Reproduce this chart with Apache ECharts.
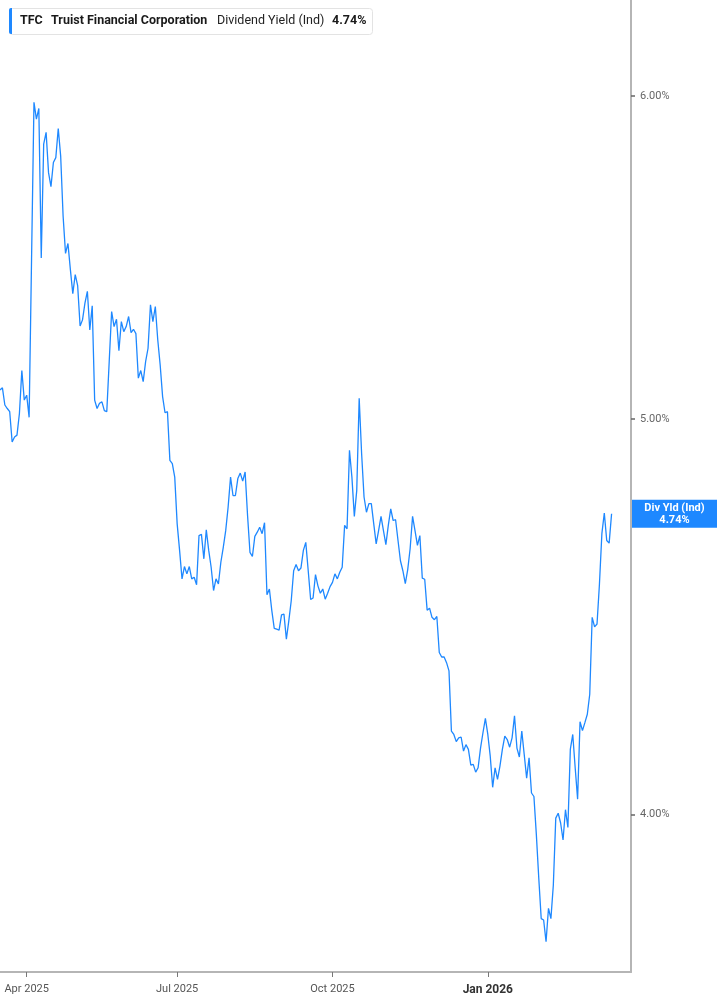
<!DOCTYPE html>
<html><head><meta charset="utf-8">
<script src="https://cdn.jsdelivr.net/npm/echarts@6/dist/echarts.min.js"></script>
<style>html,body{margin:0;padding:0;background:#fff}#c{width:717px;height:1005px}</style>
</head><body><div id="c"></div>
<script>
// ---- data ----
const startDate = '2025-03-17';
const holidays = ['2025-04-18','2025-05-26','2025-06-19','2025-07-04','2025-09-01','2025-11-27','2025-12-25','2026-01-01','2026-01-19','2026-02-16'];
const categoryCount = 261;
const labelDates = ['2025-04-01','2025-07-01','2025-10-01','2026-01-02'];
const labelTexts = ['Apr 2025','Jul 2025','Oct 2025','Jan 2026'];
const yTicks = [4, 5, 6];
const yMin = 3.66, yMax = 6.334;
const lastYield = 4.74;
const yields = [
5.083,5.089,5.040,5.030,5.021,4.936,4.950,4.955,5.016,5.139,
5.054,5.068,5.005,5.471,5.979,5.922,5.958,5.476,5.839,5.878,
5.746,5.701,5.779,5.795,5.891,5.800,5.607,5.490,5.521,5.440,
5.367,5.425,5.391,5.270,5.288,5.338,5.374,5.258,5.330,5.054,
5.030,5.045,5.049,5.024,5.021,5.165,5.313,5.268,5.290,5.197,
5.283,5.253,5.268,5.298,5.250,5.260,5.247,5.117,5.139,5.107,
5.165,5.204,5.333,5.283,5.328,5.229,5.155,5.064,5.018,5.021,
4.885,4.876,4.839,4.713,4.643,4.569,4.601,4.582,4.601,4.569,
4.573,4.554,4.682,4.685,4.621,4.697,4.643,4.599,4.539,4.569,
4.556,4.612,4.651,4.695,4.758,4.839,4.789,4.789,4.835,4.850,
4.828,4.853,4.736,4.638,4.627,4.680,4.691,4.704,4.687,4.716,
4.528,4.543,4.488,4.443,4.441,4.439,4.477,4.479,4.416,4.462,
4.513,4.590,4.606,4.590,4.597,4.643,4.664,4.590,4.516,4.520,
4.580,4.551,4.532,4.543,4.517,4.532,4.549,4.560,4.582,4.569,
4.586,4.599,4.709,4.700,4.913,4.839,4.733,4.803,5.059,4.904,
4.785,4.744,4.767,4.767,4.713,4.660,4.695,4.733,4.695,4.658,
4.709,4.753,4.722,4.724,4.669,4.616,4.590,4.557,4.593,4.648,
4.733,4.695,4.656,4.682,4.571,4.568,4.489,4.494,4.471,4.465,
4.473,4.383,4.372,4.372,4.358,4.338,4.193,4.185,4.168,4.177,
4.179,4.146,4.161,4.150,4.113,4.115,4.097,4.107,4.153,4.189,
4.223,4.185,4.134,4.062,4.107,4.080,4.111,4.150,4.181,4.173,
4.155,4.177,4.229,4.153,4.132,4.193,4.138,4.083,4.130,4.049,
4.041,3.955,3.859,3.772,3.769,3.723,3.794,3.772,3.844,3.992,
4.003,3.981,3.943,4.011,3.971,4.150,4.185,4.107,4.035,4.215,
4.194,4.213,4.233,4.281,4.471,4.447,4.454,4.556,4.687,4.742,
4.669,4.662,4.740
];

// ---- categories (trading days) ----
function tradingDays(start, n) {
  const out = [];
  const d = new Date(start + 'T00:00:00Z');
  while (out.length < n) {
    const dow = d.getUTCDay();
    const s = d.toISOString().slice(0, 10);
    if (dow !== 0 && dow !== 6 && holidays.indexOf(s) < 0) out.push(s);
    d.setUTCDate(d.getUTCDate() + 1);
  }
  return out;
}
const dates = tradingDays(startDate, categoryCount);
const isLabel = (i, v) => labelDates.indexOf(v) >= 0;

const chart = echarts.init(document.getElementById('c'), null, {renderer: 'canvas'});
const FONT = 'Roboto, "Noto Sans", sans-serif';
chart.setOption({
  animation: false,
  backgroundColor: '#ffffff',
  grid: {left: 0, right: 86, top: 0, bottom: 33, containLabel: false},
  xAxis: {
    type: 'category', data: dates, boundaryGap: false,
    axisLine: {show: true, lineStyle: {color: '#b5b5b5', width: 2}},
    axisTick: {show: true, interval: isLabel, length: 5, lineStyle: {color: '#777', width: 1}},
    axisLabel: {
      interval: isLabel, margin: 12, color: '#555', fontSize: 11, fontFamily: FONT,
      formatter: v => {
        const k = labelDates.indexOf(v);
        if (k < 0) return '';
        return k === 3 ? '{b|' + labelTexts[k] + '}' : labelTexts[k];
      },
      rich: {b: {fontWeight: 'bold', fontSize: 12, color: '#333', fontFamily: FONT}}
    },
    splitLine: {show: false}
  },
  yAxis: {
    type: 'log', logBase: 10, position: 'right', min: yMin, max: yMax,
    axisLine: {show: true, lineStyle: {color: '#b5b5b5', width: 2}},
    axisTick: {show: true, customValues: yTicks, length: 4, lineStyle: {color: '#666', width: 1.5}},
    axisLabel: {customValues: yTicks, formatter: v => Number(v).toFixed(2) + '%', color: '#666', fontSize: 11, fontFamily: FONT, margin: 9},
    splitLine: {show: false},
    minorTick: {show: false}
  },
  series: [{
    type: 'line', data: yields, symbol: 'none', showSymbol: false,
    lineStyle: {color: '#1e88ff', width: 1.3},
    markLine: {
      silent: true, symbol: ['none', 'none'],
      lineStyle: {color: 'transparent', width: 0},
      data: [{yAxis: lastYield}],
      label: {
        show: true, position: 'end', distance: 1,
        formatter: '{a|Div Yld (Ind)}\n{a|' + lastYield.toFixed(2) + '%}',
        backgroundColor: '#1e88ff', padding: [2, 8, 2, 8], align: 'left', verticalAlign: 'middle',
        rich: {a: {width: 69, align: 'center', color: '#fff', fontWeight: 'bold', fontSize: 11, lineHeight: 12, fontFamily: FONT}}
      }
    }
  }],
  graphic: [
    {type: 'rect', left: 9, top: 8, z: 10, shape: {width: 363, height: 26, r: 3}, style: {fill: '#fff', stroke: '#e3e3e3', lineWidth: 1}},
    {type: 'rect', left: 9, top: 8, z: 11, shape: {width: 3, height: 26, r: [2, 0, 0, 2]}, style: {fill: '#1e88ff'}},
    {type: 'text', left: 20, top: 14, z: 12, style: {text: 'TFC', font: 'bold 12.5px ' + FONT, fill: '#1a1a1a'}},
    {type: 'text', left: 51, top: 14, z: 12, style: {text: 'Truist Financial Corporation', font: 'bold 12.5px ' + FONT, fill: '#1a1a1a'}},
    {type: 'text', left: 217, top: 14, z: 12, style: {text: 'Dividend Yield (Ind)', font: '12.5px ' + FONT, fill: '#222'}},
    {type: 'text', left: 332, top: 14, z: 12, style: {text: lastYield.toFixed(2) + '%', font: 'bold 12.5px ' + FONT, fill: '#1a1a1a'}}
  ]
});
</script></body></html>
